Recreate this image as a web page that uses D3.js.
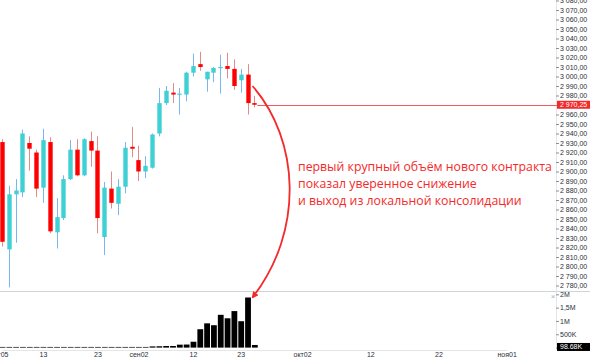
<!DOCTYPE html>
<html>
<head>
<meta charset="utf-8">
<script src="https://cdn.jsdelivr.net/npm/d3@7/dist/d3.min.js"></script>
<style>
  body { margin: 0; background: #fff; }
  svg { display: block; font-family: "Liberation Sans", Arial, sans-serif; }
</style>
</head>
<body>
<div id="chart"></div>
<script>
// daily candles, one per trading day starting авг05
const open  = [2931, 2818, 2876, 2878, 2930, 2920, 2883, 2931, 2836, 2851, 2892, 2923, 2896, 2932, 2922, 2831, 2882, 2866, 2884,
               2926, 2912, 2900, 2904, 2940, 2972, 2983, 2981, 2981, 3004, 3013, 2997, 3004, 3009, 3011, 3008, 2996, 3002, 2972];
const high  = [2934, 2885, 2892, 2944, 2937, 2923, 2945, 2936, 2872, 2896, 2933, 2934, 2935, 2942, 2937, 2889, 2900, 2892, 2931,
               2947, 2927, 2916, 2940, 2988, 2990, 2993, 2988, 3005, 3024, 3026, 3005, 3010, 3023, 3025, 3018, 3008, 3013, 2979.5];
const low   = [2821, 2778, 2825, 2873, 2901, 2873, 2867, 2835, 2819, 2849, 2891, 2895, 2895, 2905, 2835, 2812, 2861, 2854, 2877,
               2915, 2890, 2893, 2903, 2937, 2970, 2972, 2960, 2974, 3000, 3006, 2984, 2994, 2982, 2998, 2986, 2983, 2960, 2967.5];
const close = [2826, 2876, 2880, 2940, 2924, 2882, 2933, 2837, 2852, 2892, 2923, 2896, 2934, 2922, 2851, 2883, 2867, 2884, 2925,
               2924, 2900, 2906, 2939, 2972, 2985, 2981, 2982, 3004, 3011, 3010, 3005, 3009, 3010, 3008, 2990, 3002, 2972, 2970.25];
const volume = [25000, 25000, 25000, 25000, 25000, 25000, 25000, 25000, 25000, 25000, 25000, 25000, 25000, 25000, 25000, 25000,
                25000, 25000, 25000, 25000, 25000, 25000, 45000, 50000, 60000, 60000, 110000, 115000, 220000, 690000, 910000,
                840000, 1230000, 1100000, 1370000, 990000, 1880000, 98680];

// time axis: positions in trading-day index (future part counted in calendar days)
const dateTicks  = [0, 6, 14, 20, 28, 35, 44, 54, 64, 74];
const dateLabels = ["авг05", "13", "23", "сен02", "12", "23", "окт02", "12", "22", "ноя01"];

const priceTicks = d3.range(2780, 3081, 10);
const volumeTicks  = [0, 500000, 1000000, 1500000, 2000000];
const volumeLabels = ["0", "500K", "1M", "1,5M", "2M"];

const lastPrice = 2970.25;
const lastVolumeLabel = "98.68K";

const noteLines = [
  "первый крупный объём нового контракта",
  "показал уверенное снижение",
  "и выход из локальной консолидации"
];

const width = 590, height = 357;
const plotRight = 556;
const paneSplit = 291.5;
const red = "#f42a2a";

const ru = d3.formatLocale({ decimal: ",", thousands: " ", grouping: [3], currency: ["", ""] });
const priceFormat = ru.format(",.2f");

const svg = d3.select("#chart").append("svg")
  .attr("width", width)
  .attr("height", height);

const x = d3.scaleLinear().domain([0, 74]).range([2, 2 + 74 * 6.82]);
const yPrice = d3.scaleLinear().domain([2780, 3070]).range([285.5, 10]);
const yVol = d3.scaleLinear().domain([0, 2000000]).range([347.6, 294.3]);

svg.append("clipPath").attr("id", "clip-price")
  .append("rect").attr("x", 0).attr("y", 0).attr("width", plotRight).attr("height", paneSplit);

// pane separator and axis borders
svg.append("line")
  .attr("x1", 0).attr("x2", width)
  .attr("y1", paneSplit).attr("y2", paneSplit)
  .style("stroke", "#cfd3da");

svg.append("line")
  .attr("x1", plotRight + 0.5).attr("x2", plotRight + 0.5)
  .attr("y1", 0).attr("y2", 350)
  .style("stroke", "#e3e5ea");

// candles
const candles = svg.append("g").attr("clip-path", "url(#clip-price)")
  .selectAll(".candle")
  .data(d3.range(open.length))
  .enter()
  .append("g")
  .attr("class", "candle");

candles.append("line") // wick
  .attr("x1", i => Math.round(x(i)) + 0.5)
  .attr("x2", i => Math.round(x(i)) + 0.5)
  .attr("y1", i => yPrice(high[i]))
  .attr("y2", i => yPrice(low[i]))
  .style("stroke", i => close[i] >= open[i] ? "#79b6f2" : "#e58a8a")
  .style("stroke-width", 1);

candles.append("rect") // body
  .attr("x", i => Math.round(x(i)) + 0.5 - 2.2)
  .attr("width", 4.4)
  .attr("y", i => yPrice(Math.max(open[i], close[i])))
  .attr("height", i => Math.max(1.2, Math.abs(yPrice(open[i]) - yPrice(close[i]))))
  .attr("fill", i => close[i] >= open[i] ? "#3fd0d4" : "#ff0000");

// last price line
svg.append("line")
  .attr("class", "last-price-line")
  .attr("x1", x(open.length - 1) + 3).attr("x2", plotRight)
  .attr("y1", Math.round(yPrice(lastPrice)) + 0.5)
  .attr("y2", Math.round(yPrice(lastPrice)) + 0.5)
  .attr("stroke", "#f05a5a")
  .attr("stroke-width", 1);

// volume bars
svg.append("g")
  .selectAll(".vol")
  .data(d3.range(volume.length))
  .enter()
  .append("rect")
  .attr("class", "vol")
  .attr("x", i => x(i) - 2.4)
  .attr("width", 5.8)
  .attr("y", i => yVol(volume[i]))
  .attr("height", i => yVol(0) - yVol(volume[i]))
  .attr("fill", "#000");

// price axis
const priceAxis = svg.append("g")
  .attr("transform", "translate(" + plotRight + ",0)")
  .call(d3.axisRight(yPrice).tickValues(priceTicks).tickFormat(priceFormat).tickSize(3).tickPadding(1));

// volume axis
const volAxis = svg.append("g")
  .attr("transform", "translate(" + plotRight + ",0)")
  .call(d3.axisRight(yVol).tickValues(volumeTicks).tickFormat((d, i) => volumeLabels[i]).tickSize(3).tickPadding(1));

[priceAxis, volAxis].forEach(function(ax) {
  ax.select(".domain").remove();
  ax.selectAll(".tick line").style("stroke", "#8a8f99");
  ax.selectAll(".tick text").style("font-size", "7px").style("fill", "#2b2f38");
});

// time axis
const timeAxis = svg.append("g")
  .attr("transform", "translate(0,350)")
  .call(d3.axisBottom(x).tickValues(dateTicks).tickFormat((d, i) => dateLabels[i]).tickSize(0).tickPadding(2));
timeAxis.select(".domain").style("stroke", "#e3e5ea");
timeAxis.selectAll(".tick text").style("font-size", "7px").style("fill", "#2b2f38");
timeAxis.select(".tick text") // first label is half out of view, like in the terminal
  .attr("text-anchor", "end")
  .attr("x", 6);

// last price label
const lp = yPrice(lastPrice);
svg.append("rect")
  .attr("x", plotRight + 1).attr("y", lp - 4).attr("width", width - plotRight - 1).attr("height", 8)
  .attr("fill", red);
svg.append("text")
  .attr("x", plotRight + 4).attr("y", lp).attr("dy", "0.35em")
  .style("font-size", "7px").style("fill", "#fff")
  .text(priceFormat(lastPrice));

// last volume label
const lv = yVol(volume[volume.length - 1]) + 2;
svg.append("rect")
  .attr("x", plotRight + 1).attr("y", lv - 4).attr("width", width - plotRight - 1).attr("height", 8)
  .attr("fill", "#000");
svg.append("text")
  .attr("x", plotRight + 4).attr("y", lv).attr("dy", "0.35em")
  .style("font-size", "7px").style("fill", "#fff")
  .text(lastVolumeLabel);

// pane close button
svg.append("text")
  .attr("x", 553).attr("y", 296).attr("dy", "0.35em")
  .attr("text-anchor", "middle")
  .style("font-size", "8px").style("fill", "#aab0b8")
  .text("×");

// annotation arrow from the big drop candle to its volume bar
svg.append("defs").append("marker")
  .attr("id", "arrow")
  .attr("viewBox", "0 0 10 10")
  .attr("refX", 8).attr("refY", 5)
  .attr("markerWidth", 7).attr("markerHeight", 7)
  .attr("markerUnits", "userSpaceOnUse")
  .attr("orient", "auto")
  .append("path")
  .attr("d", "M0,0 L10,5 L0,10 z")
  .attr("fill", red);

const start = [x(36) + 5, yPrice(2990)];
const end = [x(36) + 5, yVol(volume[36])];
const arc = d3.path();
arc.moveTo(start[0], start[1]);
arc.bezierCurveTo(start[0] + 47, start[1] + 54, start[0] + 52, end[1] - 67, end[0], end[1]);

svg.append("path")
  .attr("d", arc.toString())
  .attr("fill", "none")
  .style("stroke", red)
  .style("stroke-width", 1.8)
  .attr("marker-end", "url(#arrow)");

svg.append("g")
  .selectAll("text")
  .data(noteLines)
  .enter()
  .append("text")
  .attr("x", 298)
  .attr("y", (d, i) => 171 + i * 17.2)
  .style("font-family", "'Open Sans', sans-serif")
  .style("font-size", "12.3px")
  .style("fill", red)
  .text(d => d);
</script>
</body>
</html>
